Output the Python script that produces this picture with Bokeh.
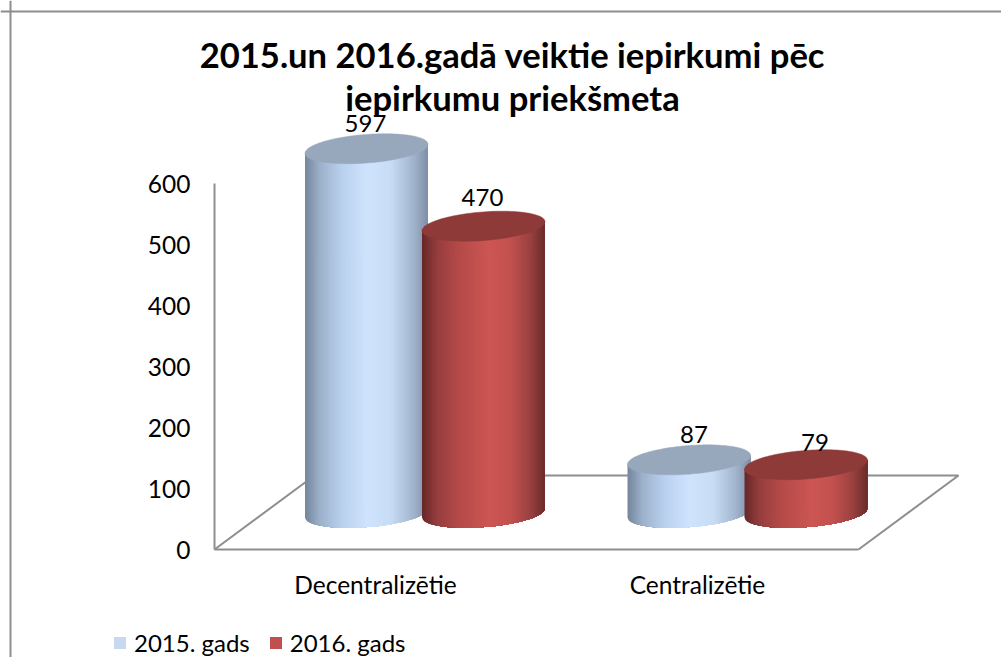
import numpy as np
from bokeh.core.properties import value
from bokeh.embed import file_html
from bokeh.models import Legend, LegendItem, Range1d, FixedTicker, Span
from bokeh.plotting import figure
from bokeh.resources import INLINE

categories = ["Decentralizētie", "Centralizētie"]
series_names = ["2015. gads", "2016. gads"]
values_2015 = [597, 87]
values_2016 = [470, 79]
y_ticks = [0, 100, 200, 300, 400, 500, 600]
title_lines = ["2015.un 2016.gadā veiktie iepirkumi pēc", "iepirkumu priekšmeta"]

FONT = "Lato"
W, H = 1001, 657
PX_X = 322.0   # pixels per category
PX_Y = 0.61    # pixels per value unit
X0, Y0 = 214, 549   # figure pixel of the data origin
BASE = 60.0    # floor depth of the cylinder base in value units
BAR_W = 123 / PX_X
GAP = 117 / PX_X
CENTERS = [(366 - 214) / PX_X, (688.5 - 214) / PX_X]
TILT = 4.5 / PX_Y
MINOR = 14.3 / PX_Y

p = figure(width=W, height=H, output_backend="svg", toolbar_location=None,
           x_range=Range1d(-X0 / PX_X, (W - X0) / PX_X),
           y_range=Range1d(-(H - Y0) / PX_Y, Y0 / PX_Y),
           min_border=0)
p.outline_line_color = None
p.grid.visible = False

GRAY = "#8e8e8e"
dx = 100 / PX_X
dy = 74 / PX_Y
p.line([0, dx, 2 + dx, 2], [0, dy, dy, 0], line_color=GRAY, line_width=2)

p.yaxis.fixed_location = 0
p.xaxis.fixed_location = 0
p.yaxis.ticker = FixedTicker(ticks=y_ticks)
p.yaxis.bounds = (0, 600)
p.xaxis.bounds = (0, 2)
p.xaxis.ticker = FixedTicker(ticks=[0.5, 1.5])
p.xaxis.major_label_overrides = {0.5: categories[0], 1.5: categories[1]}
for ax in (p.xaxis, p.yaxis):
    ax.axis_line_color = GRAY
    ax.axis_line_width = 2
    ax.major_tick_line_color = None
    ax.minor_tick_line_color = None
    ax.major_label_text_font = FONT
    ax.major_label_text_font_size = "24.5px"
    ax.major_label_text_color = "#000000"
p.xaxis.major_label_standoff = 14
p.yaxis.major_label_standoff = 18


def lerp_stops(stops, f):
    pos = [s[0] for s in stops]
    return "#%02x%02x%02x" % tuple(int(round(np.interp(f, pos, [s[1][i] for s in stops]))) for i in range(3))


BLUE = [(0, (0x74, 0x85, 0x9c)), (.12, (0x9c, 0xb0, 0xca)), (.3, (0xb9, 0xd0, 0xee)), (.5, (0xcf, 0xe3, 0xfd)),
        (.7, (0xc8, 0xdc, 0xf5)), (.88, (0xa2, 0xb4, 0xcd)), (1, (0x7e, 0x8e, 0xa6))]
RED = [(0, (0x66, 0x28, 0x28)), (.12, (0x95, 0x3d, 0x3d)), (.3, (0xb5, 0x4a, 0x49)), (.55, (0xcc, 0x56, 0x53)),
       (.72, (0xc2, 0x51, 0x4e)), (.88, (0x99, 0x41, 0x40)), (1, (0x6a, 0x2b, 0x2a))]
TOPS = ["#98a8bc", "#8e3a38"]


def cylinder(cx, val, stops, top_col, nudge_px):
    half = BAR_W / 2
    edges = np.linspace(-1, 1, 61)
    fine = np.linspace(-1, 1, 121)
    xs, ys, cols = [], [], []
    for i in range(len(edges) - 1):
        # every strip runs on to the right edge, so the next one paints over it without a seam
        c = np.concatenate(([edges[i]], fine[fine > edges[i]]))
        s = np.sqrt(np.clip(1 - c ** 2, 0, 1))
        bottom = BASE + TILT * c - MINOR * s
        top = BASE + val + TILT * c
        xs.append(np.concatenate((cx + half * c, (cx + half * c)[::-1])))
        ys.append(np.concatenate((bottom, top[::-1])))
        cols.append(lerp_stops(stops, (edges[i] + edges[i + 1]) / 4 + .5))
    p.patches(xs, ys, fill_color=cols, line_color=None)
    t = np.linspace(0, 2 * np.pi, 121)
    p.patch(cx + half * np.cos(t), BASE + val + TILT * np.cos(t) + MINOR * np.sin(t),
            fill_color=top_col, line_color=top_col, line_width=0.5)
    p.text([cx + nudge_px[0] / PX_X], [BASE + val + nudge_px[1] / PX_Y], text=[str(val)], text_font=value(FONT),
           text_font_size="24px", text_align="center", text_baseline="bottom", text_color="#000000")


LABEL_NUDGE_2015 = [(-1, 17), (5, 17)]
LABEL_NUDGE_2016 = [(-1, 20), (9, 14)]
for k in range(2):
    cylinder(CENTERS[k], values_2015[k], BLUE, TOPS[0], LABEL_NUDGE_2015[k])
    cylinder(CENTERS[k] + GAP, values_2016[k], RED, TOPS[1], LABEL_NUDGE_2016[k])

# title
p.text([1.0 + (512 - 536) / PX_X] * 2, [(549 - 54) / PX_Y, (549 - 97) / PX_Y], text=title_lines,
       text_font=value(FONT), text_font_size="34.6px", text_font_style="bold", text_align="center",
       text_baseline="middle", text_color="#000000")

# outer border of the picture
p.add_layout(Span(location=(10 - 214) / PX_X, dimension="height", line_color=GRAY, line_width=2))
p.add_layout(Span(location=(549 - 11) / PX_Y, dimension="width", line_color=GRAY, line_width=2))

r0 = p.quad(left=[np.nan], right=[np.nan], top=[np.nan], bottom=[np.nan], fill_color="#c6d9f1", line_color=None)
r1 = p.quad(left=[np.nan], right=[np.nan], top=[np.nan], bottom=[np.nan], fill_color="#c0504d", line_color=None)
legend = Legend(items=[LegendItem(label=series_names[0], renderers=[r0]), LegendItem(label=series_names[1], renderers=[r1])],
                orientation="horizontal", location=(112, 0), background_fill_alpha=0, border_line_color=None,
                glyph_width=15, glyph_height=15, label_standoff=7, spacing=18, padding=0, margin=0,
                label_text_font=FONT, label_text_font_size="24px", label_text_color="#000000")
p.add_layout(legend, "center")

open("out.html", "w").write(file_html(p, INLINE))
